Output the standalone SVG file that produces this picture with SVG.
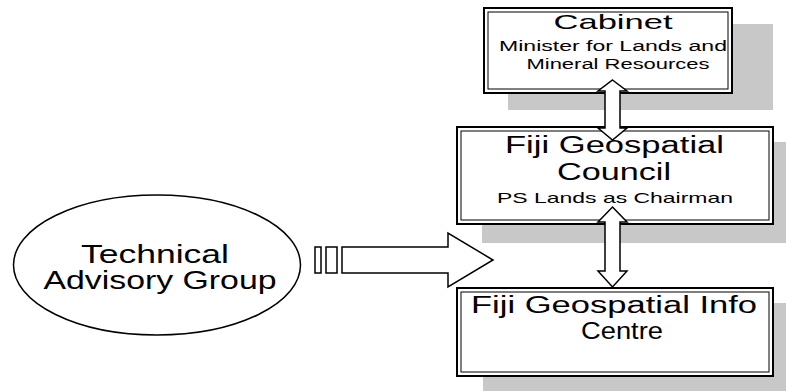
<svg xmlns="http://www.w3.org/2000/svg" width="786" height="391" viewBox="0 0 786 391">
<style>
.shadow{fill:#c8c8c8;stroke:none}
.outer{fill:#fff;stroke:#000;stroke-width:2}
.inner{fill:none;stroke:#000;stroke-width:1}
.arrow{fill:#fff;stroke:#000;stroke-width:1.5;stroke-linejoin:miter}
text{font-family:"Liberation Sans",Arial,sans-serif;fill:#000;text-anchor:middle}
</style>
<rect width="786" height="391" fill="#fff"/>
<g id="shadows">
<rect class="shadow" x="508" y="24" width="265" height="86"/>
<rect class="shadow" x="482" y="142" width="304" height="101"/>
<rect class="shadow" x="483" y="303" width="303" height="88"/>
</g>
<g id="cabinet">
<rect class="outer" x="484" y="8" width="248" height="85"/>
<rect class="inner" x="488" y="12" width="240" height="77"/>
<text x="613" y="29" font-size="21" textLength="119" lengthAdjust="spacingAndGlyphs">Cabinet</text>
<text x="613" y="51" font-size="14" textLength="228" lengthAdjust="spacingAndGlyphs">Minister for Lands and</text>
<text x="618" y="69" font-size="14" textLength="183" lengthAdjust="spacingAndGlyphs">Mineral Resources</text>
</g>
<g id="council">
<rect class="outer" x="457" y="127" width="316" height="97"/>
<rect class="inner" x="461" y="131" width="308" height="89"/>
<text x="614.5" y="153" font-size="23" textLength="219" lengthAdjust="spacingAndGlyphs">Fiji Geospatial</text>
<text x="614" y="180" font-size="23" textLength="114" lengthAdjust="spacingAndGlyphs">Council</text>
<text x="615" y="203" font-size="15" textLength="236" lengthAdjust="spacingAndGlyphs">PS Lands as Chairman</text>
</g>
<g id="infocentre">
<rect class="outer" x="457" y="288" width="316" height="88"/>
<rect class="inner" x="461" y="292" width="308" height="80"/>
<text x="614" y="313" font-size="23" textLength="286" lengthAdjust="spacingAndGlyphs">Fiji Geospatial Info</text>
<text x="622" y="339" font-size="23" textLength="82" lengthAdjust="spacingAndGlyphs">Centre</text>
</g>
<g id="tag">
<ellipse cx="157" cy="265" rx="143.5" ry="70" fill="#fff" stroke="#000" stroke-width="1.5"/>
<text x="155" y="263" font-size="25" textLength="148" lengthAdjust="spacingAndGlyphs">Technical</text>
<text x="160" y="289" font-size="25" textLength="233" lengthAdjust="spacingAndGlyphs">Advisory Group</text>
</g>
<g id="connectors">
<path class="arrow" d="M612.5,80 L627,91 L620,91 L620,128 L627,128 L612.5,140 L598,128 L605,128 L605,91 L598,91 Z"/>
<path class="arrow" d="M612.5,207 L627,222 L620,222 L620,271 L627,271 L612.5,287 L598,271 L605,271 L605,222 L598,222 Z"/>
<rect class="arrow" x="315" y="247" width="6" height="26"/>
<rect class="arrow" x="326" y="247" width="11" height="26"/>
<path class="arrow" d="M342,247 L448,247 L448,233 L493,260 L448,287 L448,273 L342,273 Z"/>
</g>
</svg>
